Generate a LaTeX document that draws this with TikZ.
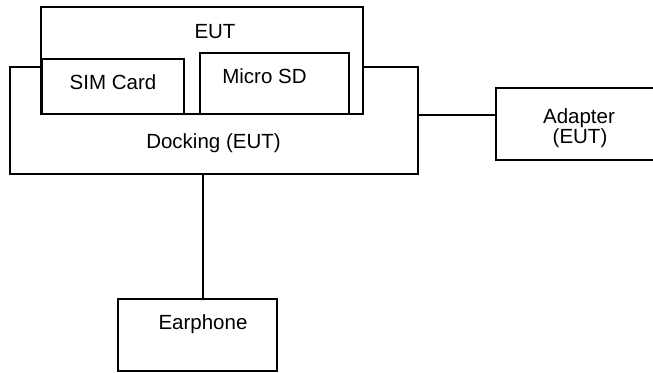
\documentclass[tikz,border=0pt]{standalone}
\usepackage{fontspec}
\setmainfont{Liberation Sans}
\begin{document}
\begin{tikzpicture}[x=1pt,y=-1pt,
  box/.style={draw=black,line width=1.4pt,fill=white,rectangle,inner sep=0pt},
  lbl/.style={anchor=base,inner sep=0pt,font=\fontsize{20.5}{22.5}\selectfont},
  wire/.style={draw=black,line width=1.8pt}]
\useasboundingbox (0,0) rectangle (653,372);
\clip (0,0) rectangle (653,372);
\node[box,minimum width=408pt,minimum height=107pt] (dock) at (214,120.5) {};
\node[box,minimum width=322pt,minimum height=107pt] (eut) at (202,60.5) {};
\node[box,minimum width=142pt,minimum height=55pt] (sim) at (113,86.5) {};
\node[box,minimum width=149pt,minimum height=61pt] (sd) at (274.5,83.5) {};
\node[box,minimum width=166pt,minimum height=72pt] (adapter) at (579,124) {};
\node[box,minimum width=159pt,minimum height=72pt] (ear) at (197.5,335) {};
\node[lbl] (eutl) at (215,38.5) {EUT};
\node[lbl] (siml) at (113,89) {SIM Card};
\node[lbl] (sdl) at (264.5,83) {Micro SD};
\node[lbl] (dockl) at (213.5,148) {Docking (EUT)};
\node[lbl] (adl1) at (579,123) {Adapter};
\node[lbl] (adl2) at (580,143) {(EUT)};
\node[lbl] (earl) at (203,329) {Earphone};
\draw[wire] (dock.east |- eut.south) -- (adapter.west |- eut.south);
\coordinate (j) at (203,174);
\draw[wire] (j) -- (j |- ear.north);
\end{tikzpicture}
\end{document}
